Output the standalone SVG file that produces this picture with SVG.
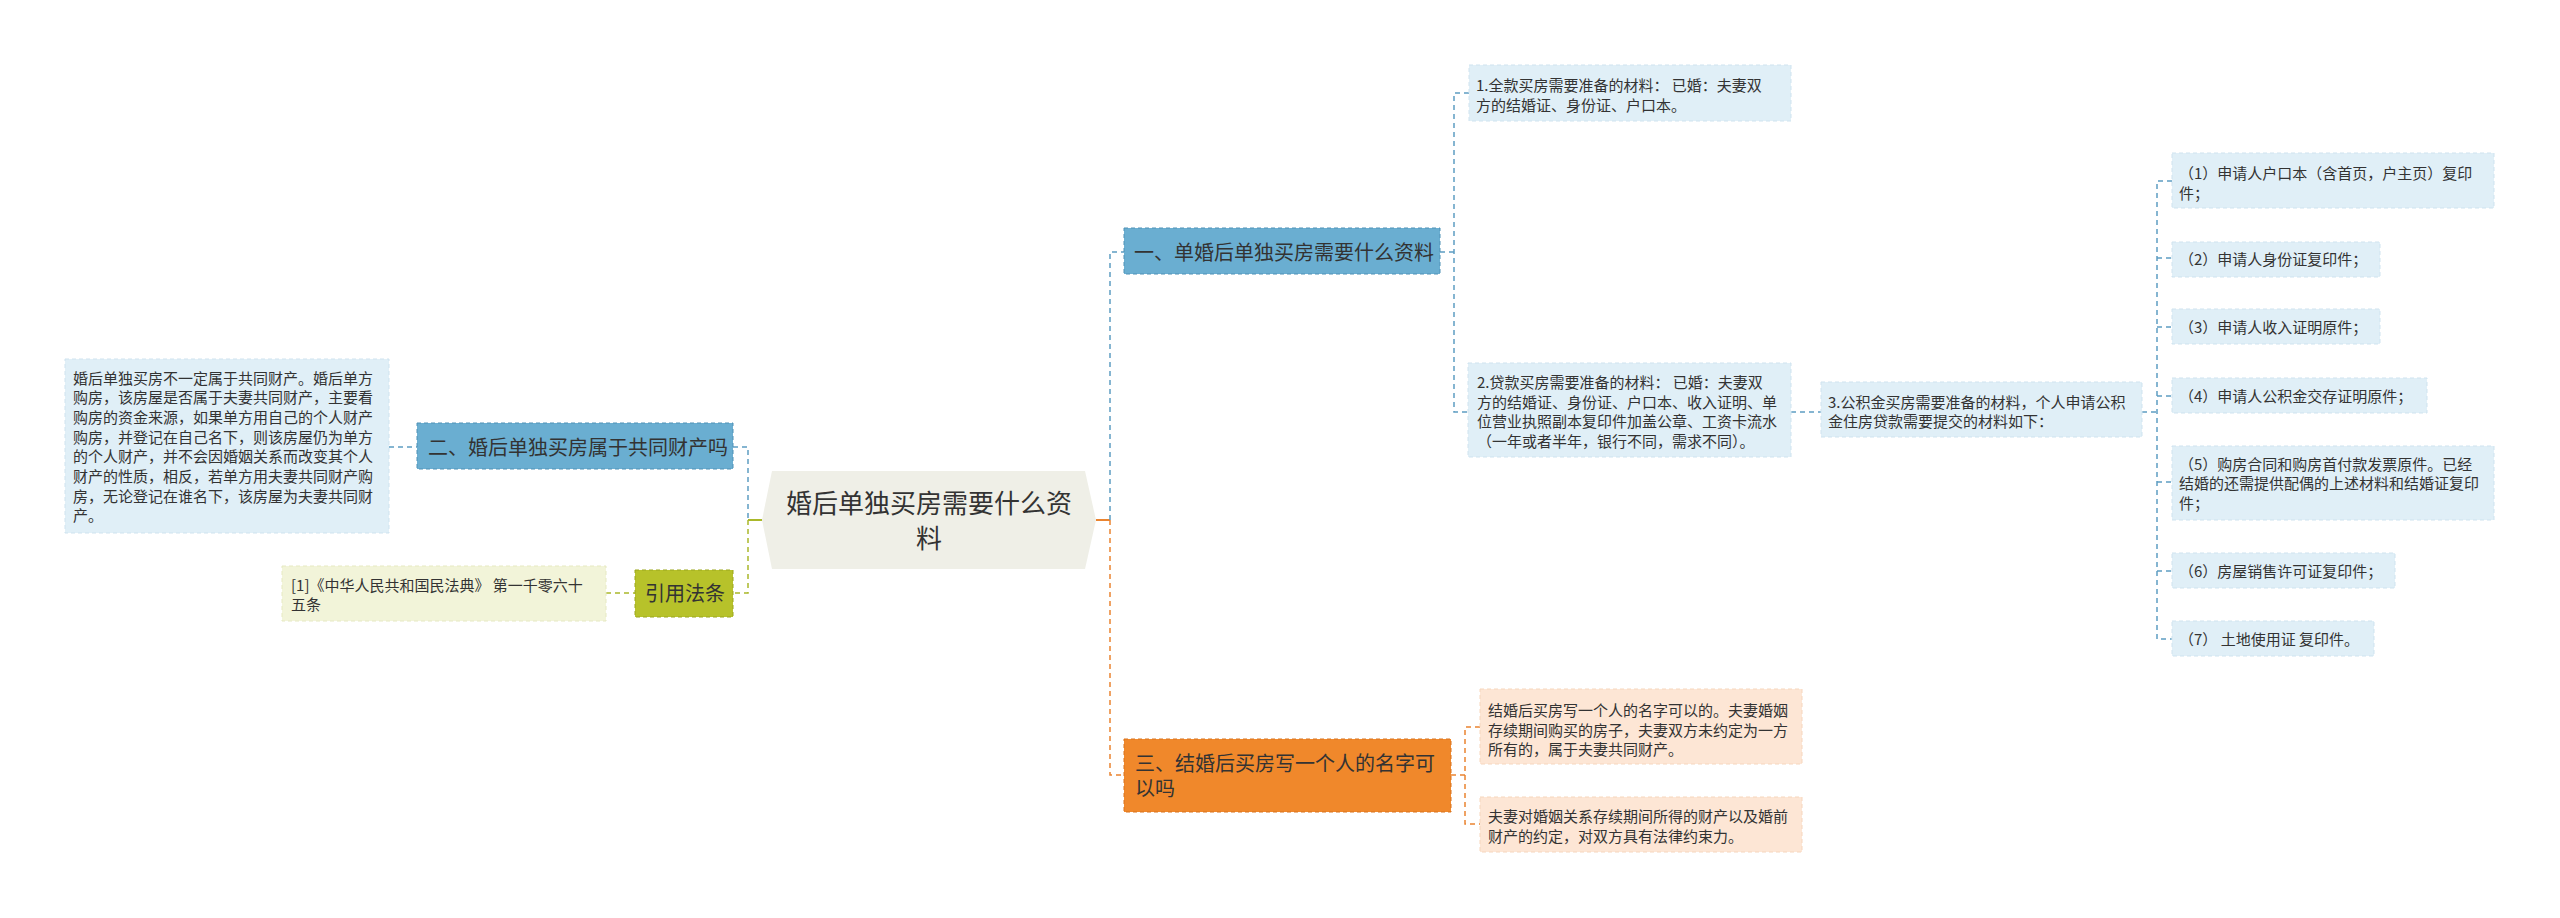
<svg xmlns="http://www.w3.org/2000/svg" width="2560" height="918" viewBox="0 0 2560 918">
<style>
text{font-family:"Noto Sans CJK SC","Noto Sans",sans-serif;fill:#333333}
.t15{font-size:15px}
.t20{font-size:20px}
.t26{font-size:26px}
.c{fill:none;stroke-width:1.5;stroke-dasharray:5 4}
.cb{stroke:#5d9dc2}
.co{stroke:#aab82a}
.cr{stroke:#ea8430}
.solid{fill:none;stroke-width:2}
.nb{fill:#6aaed1;stroke:#4e91b6;stroke-width:1;stroke-dasharray:4 3}
.lb{fill:#e0eff7;stroke:#cfe3ef;stroke-width:1;stroke-dasharray:4 3}
.no{fill:#b7c22a;stroke:#9aa61c;stroke-width:1;stroke-dasharray:4 3}
.lo{fill:#f2f4d9;stroke:#e6e9c2;stroke-width:1;stroke-dasharray:4 3}
.nr{fill:#f0882b;stroke:#d9731c;stroke-width:1;stroke-dasharray:4 3}
.lr{fill:#fde6d5;stroke:#f6d6bd;stroke-width:1;stroke-dasharray:4 3}
</style>
<rect width="2560" height="918" fill="#ffffff"/>
<g id="connectors">
<path class="c cb" d="M389,447 H418"/>
<path class="c cb" d="M733,447 H748 V520"/>
<path class="c co" d="M748,520 V593 H733"/>
<path class="c co" d="M606,593 H635"/>
<path class="solid" stroke="#aab82a" d="M748,520 H762"/>
<path class="solid" stroke="#ea8430" d="M1096,520 H1110"/>
<path class="c cb" d="M1110,520 V252 H1124"/>
<path class="c cb" d="M1440,252 H1454"/>
<path class="c cb" d="M1469,93 H1454 V412 H1468"/>
<path class="c cb" d="M1791,412 H1821"/>
<path class="c cb" d="M2142,412 H2157"/>
<path class="c cb" d="M2172,181 H2157 V639 H2172"/>
<path class="c cb" d="M2157,258 H2172 M2157,327 H2172 M2157,396 H2172 M2157,482 H2172 M2157,571 H2172"/>
<path class="c cr" d="M1110,520 V775 H1124"/>
<path class="c cr" d="M1451,775 H1465"/>
<path class="c cr" d="M1480,727 H1465 V824 H1480"/>
</g>
<g id="root">
<polygon points="762,520 772,471 1085,471 1096,520 1085,569 772,569" fill="#efefe7"/>
<text class="t26" x="929" y="513" text-anchor="middle">婚后单独买房需要什么资</text>
<text class="t26" x="929" y="548" text-anchor="middle">料</text>
</g>
<g id="node-two">
<rect class="nb" x="417" y="423" width="316" height="46"/>
<text class="t20" x="428" y="454.5">二、婚后单独买房属于共同财产吗</text>
</g>
<g id="leaf-two">
<rect class="lb" x="65" y="359" width="324" height="174"/>
<text class="t15" x="73" y="383.5">婚后单独买房不一定属于共同财产。婚后单方</text>
<text class="t15" x="73" y="403.2">购房，该房屋是否属于夫妻共同财产，主要看</text>
<text class="t15" x="73" y="422.9">购房的资金来源，如果单方用自己的个人财产</text>
<text class="t15" x="73" y="442.6">购房，并登记在自己名下，则该房屋仍为单方</text>
<text class="t15" x="73" y="462.3">的个人财产，并不会因婚姻关系而改变其个人</text>
<text class="t15" x="73" y="482">财产的性质，相反，若单方用夫妻共同财产购</text>
<text class="t15" x="73" y="501.7">房，无论登记在谁名下，该房屋为夫妻共同财</text>
<text class="t15" x="73" y="521.4">产。</text>
</g>
<g id="node-law">
<rect class="no" x="635" y="570" width="98" height="47"/>
<text class="t20" x="645" y="600.5">引用法条</text>
</g>
<g id="leaf-law">
<rect class="lo" x="282" y="566" width="324" height="55"/>
<text class="t15" x="291" y="590.5">[1]《中华人民共和国民法典》 第一千零六十</text>
<text class="t15" x="291" y="609.5">五条</text>
</g>
<g id="node-one">
<rect class="nb" x="1124" y="228" width="316" height="46"/>
<text class="t20" x="1134" y="259.5">一、单婚后单独买房需要什么资料</text>
</g>
<g id="leaf-1">
<rect class="lb" x="1469" y="65" width="322" height="56"/>
<text class="t15" x="1476" y="90.5">1.全款买房需要准备的材料： 已婚：夫妻双</text>
<text class="t15" x="1476" y="110.5">方的结婚证、身份证、户口本。</text>
</g>
<g id="leaf-2">
<rect class="lb" x="1468" y="363" width="323" height="94"/>
<text class="t15" x="1477" y="387.5">2.贷款买房需要准备的材料： 已婚：夫妻双</text>
<text class="t15" x="1477" y="407.5">方的结婚证、身份证、户口本、收入证明、单</text>
<text class="t15" x="1477" y="426.5">位营业执照副本复印件加盖公章、工资卡流水</text>
<text class="t15" x="1477" y="446.5">（一年或者半年，银行不同，需求不同）。</text>
</g>
<g id="leaf-3">
<rect class="lb" x="1821" y="382" width="321" height="55"/>
<text class="t15" x="1828" y="407.5">3.公积金买房需要准备的材料，个人申请公积</text>
<text class="t15" x="1828" y="426.5">金住房贷款需要提交的材料如下：</text>
</g>
<g id="item-1">
<rect class="lb" x="2172" y="153" width="322" height="55"/>
<text class="t15" x="2179" y="178.5">（1）申请人户口本（含首页，户主页）复印</text>
<text class="t15" x="2179" y="198.5">件；</text>
</g>
<g id="item-2">
<rect class="lb" x="2172" y="242" width="208" height="35"/>
<text class="t15" x="2179" y="264.5">（2）申请人身份证复印件；</text>
</g>
<g id="item-3">
<rect class="lb" x="2172" y="309" width="208" height="35"/>
<text class="t15" x="2179" y="332.5">（3）申请人收入证明原件；</text>
</g>
<g id="item-4">
<rect class="lb" x="2172" y="378" width="255" height="35"/>
<text class="t15" x="2179" y="401.5">（4）申请人公积金交存证明原件；</text>
</g>
<g id="item-5">
<rect class="lb" x="2172" y="446" width="322" height="74"/>
<text class="t15" x="2179" y="469.5">（5）购房合同和购房首付款发票原件。已经</text>
<text class="t15" x="2179" y="488.5">结婚的还需提供配偶的上述材料和结婚证复印</text>
<text class="t15" x="2179" y="508.5">件；</text>
</g>
<g id="item-6">
<rect class="lb" x="2172" y="553" width="223" height="35"/>
<text class="t15" x="2179" y="576.5">（6）房屋销售许可证复印件；</text>
</g>
<g id="item-7">
<rect class="lb" x="2172" y="621" width="202" height="35"/>
<text class="t15" x="2179" y="644.5">（7） 土地使用证 复印件。</text>
</g>
<g id="node-three">
<rect class="nr" x="1124" y="739" width="327" height="73"/>
<text class="t20" x="1135" y="771">三、结婚后买房写一个人的名字可</text>
<text class="t20" x="1135" y="796">以吗</text>
</g>
<g id="leaf-a">
<rect class="lr" x="1480" y="689" width="322" height="75"/>
<text class="t15" x="1488" y="715.5">结婚后买房写一个人的名字可以的。夫妻婚姻</text>
<text class="t15" x="1488" y="735.5">存续期间购买的房子，夫妻双方未约定为一方</text>
<text class="t15" x="1488" y="754.5">所有的，属于夫妻共同财产。</text>
</g>
<g id="leaf-b">
<rect class="lr" x="1480" y="797" width="322" height="55"/>
<text class="t15" x="1488" y="821.5">夫妻对婚姻关系存续期间所得的财产以及婚前</text>
<text class="t15" x="1488" y="841.5">财产的约定，对双方具有法律约束力。</text>
</g>
</svg>
